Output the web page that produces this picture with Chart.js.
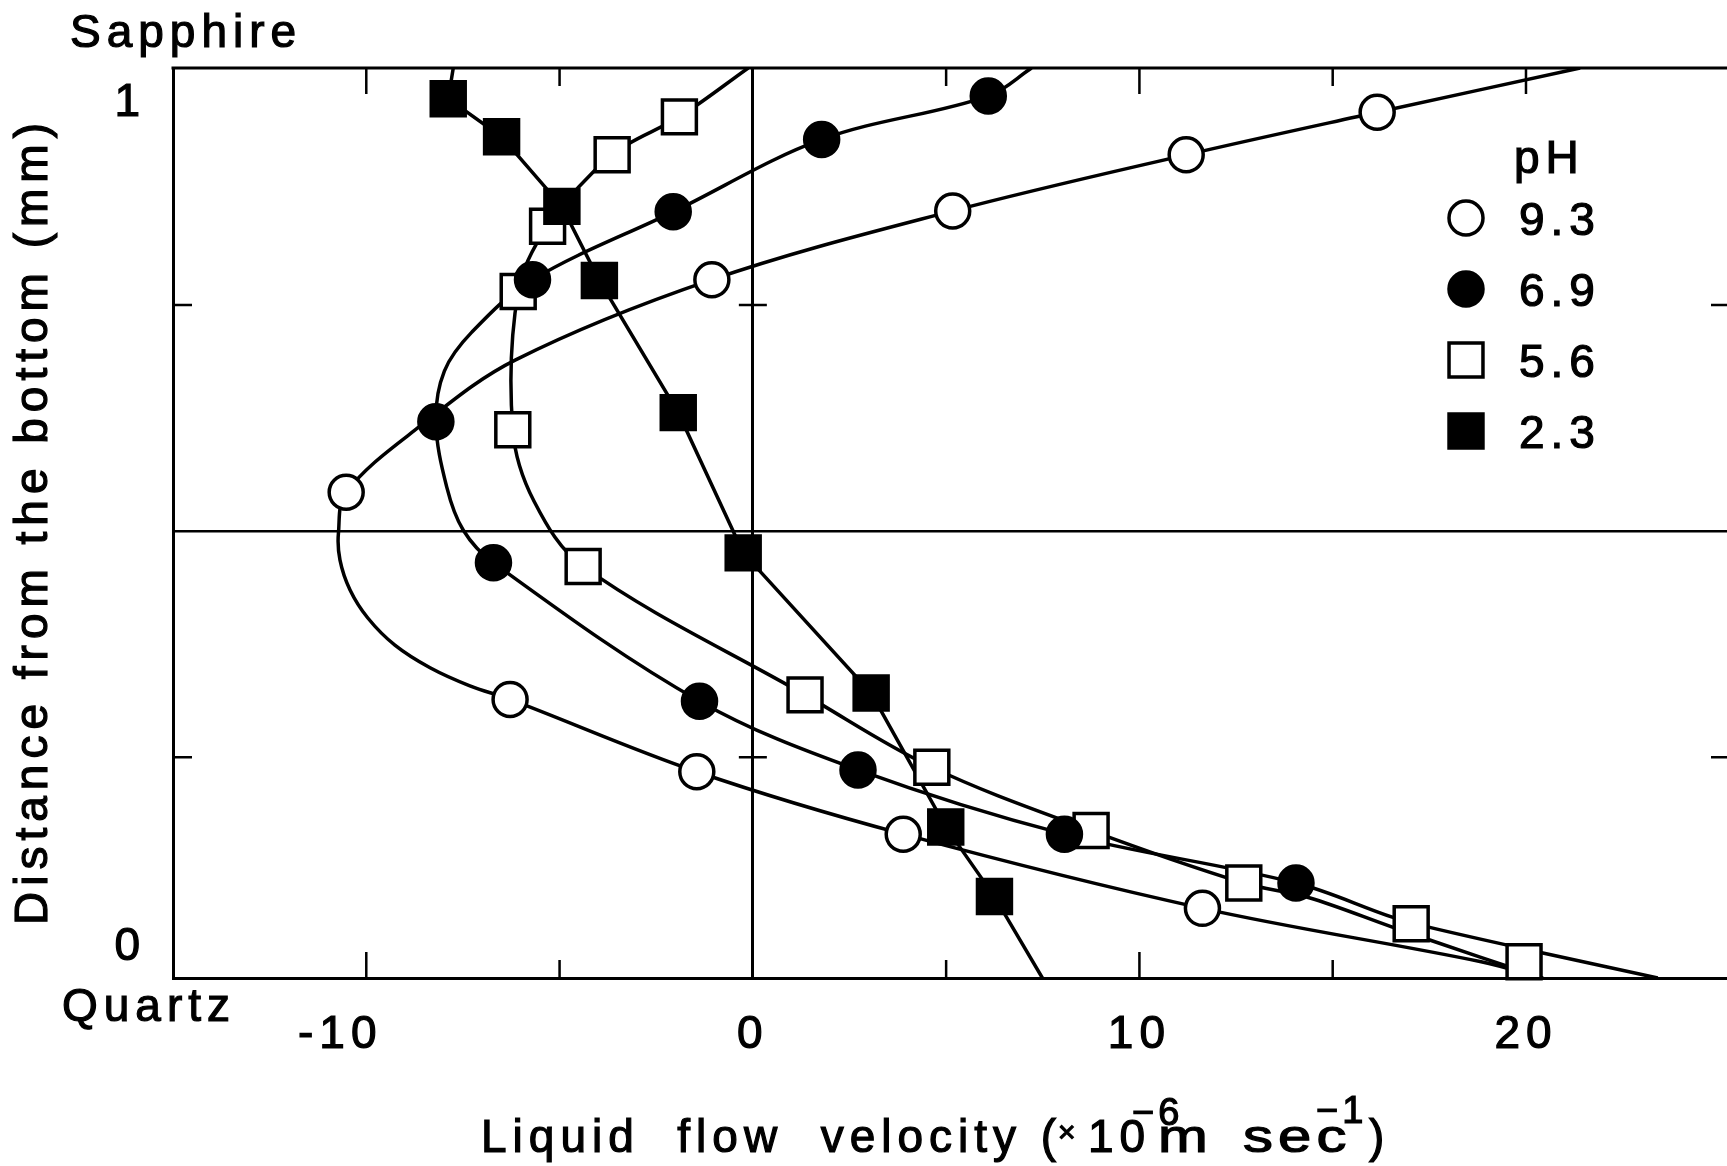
<!DOCTYPE html>
<html>
<head>
<meta charset="utf-8">
<title>Liquid flow velocity profiles</title>
<script src="https://cdn.jsdelivr.net/npm/chart.js@4.4.1/dist/chart.umd.min.js"></script>
<style>
  html, body { margin: 0; padding: 0; background: #fff; overflow: hidden; }
  #wrap { width: 1727px; height: 1166px; }
</style>
</head>
<body>
<div id="wrap"><canvas id="flow" width="1727" height="1166"></canvas></div>
<script>
(function(){
    const FONT = "'Liberation Sans', Arial, Helvetica, sans-serif";

    // axes: velocity in 1e-6 m/s, distance from the quartz plate in mm
    const xMin = -15, xMax = 25.2;
    const yMin = 0.006, yMax = 1.012;
    const xTickLabels = [-10, 0, 10, 20];
    const xInnerTicks = [-10, -5, 5, 10, 15, 20];
    const yInnerTicks = [0.25, 0.75];
    const yEndLabels = ['0', '1'];

    const phValues = ['9.3', '6.9', '5.6', '2.3'];

    // measured points, top of the cell to the bottom
    const vel93  = [16.15, 11.21, 5.17, -1.06, -10.52, -6.28, -1.45, 3.89, 11.63];
    const dist93 = [0.963, 0.916, 0.854, 0.778, 0.543, 0.314, 0.234, 0.165, 0.083];

    const vel69  = [6.09, 1.78, -2.06, -5.70, -8.20, -6.71, -1.38, 2.72, 8.06, 14.05];
    const dist69 = [0.981, 0.933, 0.853, 0.778, 0.621, 0.465, 0.312, 0.236, 0.165, 0.111];

    const vel56  = [-1.90, -3.64, -5.31, -6.07, -6.21, -4.39, 1.35, 4.63, 8.75, 12.70, 17.03, 19.95];
    const dist56 = [0.958, 0.916, 0.837, 0.765, 0.612, 0.461, 0.319, 0.239, 0.169, 0.111, 0.066, 0.024];

    const vel23  = [-7.88, -6.50, -4.94, -3.97, -1.93, -0.25, 3.06, 4.99, 6.25];
    const dist23 = [0.978, 0.936, 0.859, 0.777, 0.631, 0.476, 0.321, 0.173, 0.096];

    // the drawn profile lines, wall to wall
    const fitVel93  = [21.4, 16.15, 11.21, 5.17, -1.06, -6.15, -8.61, -10.52, -10.72, -10.68, -10.42, -9.96, -9.26, -8.35, -7.32, -6.28, -1.45, 3.89, 11.63, 18.84, 20.4];
    const fitDist93 = [1.012, 0.963, 0.916, 0.854, 0.778, 0.689, 0.616, 0.543, 0.498, 0.468, 0.435, 0.404, 0.374, 0.349, 0.329, 0.314, 0.234, 0.165, 0.083, 0.024, 0.006];

    const fitVel69  = [7.21, 6.09, 1.78, -2.06, -5.70, -7.27, -7.98, -8.20, -7.92, -7.49, -6.71, -1.38, 2.72, 8.06, 14.05, 16.56, 17.51, 20.08, 23.41];
    const fitDist69 = [1.012, 0.981, 0.933, 0.853, 0.778, 0.720, 0.677, 0.621, 0.549, 0.501, 0.465, 0.312, 0.236, 0.165, 0.111, 0.073, 0.062, 0.037, 0.006];

    const fitVel56  = [-0.12, -1.90, -3.64, -5.31, -6.07, -6.21, -5.66, -4.39, 1.35, 4.63, 8.75, 12.70, 14.37, 16.56, 17.51, 20.08, 20.44];
    const fitDist56 = [1.012, 0.958, 0.916, 0.837, 0.765, 0.612, 0.533, 0.461, 0.319, 0.239, 0.169, 0.111, 0.095, 0.062, 0.048, 0.011, 0.006];

    const fitVel23  = [-7.75, -7.88, -6.50, -4.94, -3.97, -1.93, -0.25, 3.06, 4.99, 6.25, 7.49];
    const fitDist23 = [1.012, 0.978, 0.936, 0.859, 0.777, 0.631, 0.476, 0.321, 0.173, 0.096, 0.006];

    const toXY = (xs, ys) => xs.map((x, i) => ({x: x, y: ys[i]}));

    const series = [
        {ph: phValues[0], pts: toXY(vel93, dist93), fit: toXY(fitVel93, fitDist93), shape: 'circle', fill: '#fff', tension: 0.35, order: 4},
        {ph: phValues[1], pts: toXY(vel69, dist69), fit: toXY(fitVel69, fitDist69), shape: 'circle', fill: '#000', tension: 0.35, order: 2},
        {ph: phValues[2], pts: toXY(vel56, dist56), fit: toXY(fitVel56, fitDist56), shape: 'rect',   fill: '#fff', tension: 0.35, order: 3},
        {ph: phValues[3], pts: toXY(vel23, dist23), fit: toXY(fitVel23, fitDist23), shape: 'rect',   fill: '#000', tension: 0,    order: 1}
    ];
    const radiusFor = shape => shape === 'rect' ? 24 : 17;
    const LINE = 3.5;

    const datasets = [];
    series.forEach(s => {
        datasets.push({
            label: 'pH ' + s.ph, data: s.pts, showLine: false,
            pointStyle: s.shape, pointRadius: radiusFor(s.shape),
            pointBackgroundColor: s.fill, pointBorderColor: '#000', pointBorderWidth: LINE,
            clip: false, order: s.order
        });
        datasets.push({
            label: 'profile ' + s.ph, data: s.fit, showLine: true, pointRadius: 0,
            borderColor: '#000', borderWidth: LINE, tension: s.tension, fill: false, order: 10
        });
    });

    // filled text with a thin outline, heavier like the printed lettering
    function ink(ctx, str, x, y, sx) {
        ctx.save();
        ctx.translate(x, y);
        if (sx) ctx.scale(sx, 1);
        ctx.fillText(str, 0, 0);
        ctx.strokeText(str, 0, 0);
        ctx.restore();
    }

    const framePlugin = {
        id: 'frame',
        beforeDraw(chart) {
            chart.ctx.letterSpacing = '6px';
        },
        beforeDatasetsDraw(chart) {
            const {ctx, chartArea: a, scales: {x, y}} = chart;
            const x0 = x.getPixelForValue(0);
            ctx.save();
            ctx.strokeStyle = '#000';
            ctx.lineWidth = 3;
            ctx.beginPath();
            ctx.moveTo(a.left - 1.5, a.top);
            ctx.lineTo(a.right, a.top);
            ctx.stroke();

            ctx.lineWidth = 2.5;
            ctx.beginPath();
            xInnerTicks.forEach(v => {
                const px = x.getPixelForValue(v);
                const len = v % 10 === 0 ? 26 : 18;
                ctx.moveTo(px, a.bottom); ctx.lineTo(px, a.bottom - len);
                ctx.moveTo(px, a.top); ctx.lineTo(px, a.top + len);
            });
            yInnerTicks.forEach(v => {
                const py = y.getPixelForValue(v);
                ctx.moveTo(a.left, py); ctx.lineTo(a.left + 19, py);
                ctx.moveTo(a.right, py); ctx.lineTo(a.right - 16, py);
                ctx.moveTo(x0 - 14, py); ctx.lineTo(x0 + 14, py);
            });
            ctx.stroke();
            ctx.restore();
        },
        afterDraw(chart) {
            const {ctx, chartArea: a} = chart;
            ctx.save();
            ctx.fillStyle = '#000';
            ctx.strokeStyle = '#000';
            ctx.lineWidth = 1.2;
            ctx.textBaseline = 'alphabetic';
            ctx.font = '46px ' + FONT;
            ctx.letterSpacing = '6px';

            // plate names
            ctx.textAlign = 'left';
            ink(ctx, 'Sapphire', 70, a.top - 21);
            ink(ctx, 'Quartz', 62, a.bottom + 43);

            // y end labels
            ctx.letterSpacing = '0px';
            ctx.textAlign = 'right';
            ink(ctx, yEndLabels[1], a.left - 33, a.top + 48);
            ink(ctx, yEndLabels[0], a.left - 33, a.bottom - 18);

            // y title
            ctx.letterSpacing = '6px';
            ctx.save();
            ctx.translate(47, 521);
            ctx.rotate(-Math.PI / 2);
            ctx.textAlign = 'center';
            ink(ctx, 'Distance from the bottom (mm)', 0, 0);
            ctx.restore();

            // x title, set piece by piece with raised exponents
            ctx.textAlign = 'left';
            const base = 1152;
            ink(ctx, 'Liquid  flow  velocity (', 481, base);
            ink(ctx, '10', 1088, base);
            ctx.letterSpacing = '4px';
            ink(ctx, 'm', 1158, base, 1.3);
            ink(ctx, 'sec', 1243, base, 1.3);
            ink(ctx, ')', 1369, base);
            ctx.font = '30px ' + FONT;
            ctx.letterSpacing = '0px';
            ink(ctx, '\u00d7', 1058, base - 10);
            ctx.font = '38px ' + FONT;
            ctx.letterSpacing = '4px';
            ink(ctx, '\u22126', 1132, base - 27);
            ink(ctx, '\u22121', 1316, base - 29);

            // legend
            ctx.font = '46px ' + FONT;
            ctx.letterSpacing = '6px';
            ink(ctx, 'pH', 1514, 173);
            series.forEach((s, i) => {
                const cy = 218 + i * 71;
                ctx.save();
                ctx.fillStyle = s.fill;
                ctx.lineWidth = LINE;
                Chart.helpers.drawPoint(ctx, {pointStyle: s.shape, radius: radiusFor(s.shape), rotation: 0, borderWidth: LINE}, 1466, cy);
                ctx.restore();
                ink(ctx, s.ph, 1519, cy + 17);
            });
            ctx.restore();
        }
    };

    new Chart(document.getElementById('flow'), {
        type: 'scatter',
        data: {datasets: datasets},
        options: {
            responsive: false,
            animation: false,
            devicePixelRatio: 1,
            events: [],
            layout: {autoPadding: false, padding: {top: 68, left: 0, right: 0, bottom: 88}},
            plugins: {legend: {display: false}, tooltip: {enabled: false}},
            scales: {
                x: {
                    type: 'linear', min: xMin, max: xMax,
                    afterBuildTicks: s => { s.ticks = xTickLabels.map(v => ({value: v})); },
                    afterFit: s => { s.height = 100; s.paddingLeft = 0; s.paddingRight = 0; },
                    ticks: {
                        font: {family: FONT, size: 46}, color: '#000', padding: 30,
                        textStrokeColor: '#000', textStrokeWidth: 1.2,
                        maxRotation: 0, autoSkip: false,
                        // hang the minus sign so the digits sit under the tick
                        callback: v => v < 0 ? '-' + Math.abs(v) + '\u2003' : String(v)
                    },
                    grid: {
                        drawTicks: false, lineWidth: 3,
                        color: c => c.tick && c.tick.value === 0 ? '#000' : 'rgba(0,0,0,0)'
                    },
                    border: {display: true, color: '#000', width: 3}
                },
                y: {
                    type: 'linear', min: yMin, max: yMax,
                    afterBuildTicks: s => { s.ticks = [{value: 0.5}]; },
                    afterFit: s => { s.width = 173; },
                    ticks: {display: false},
                    grid: {drawTicks: false, lineWidth: 2.5, color: '#000'},
                    border: {display: true, color: '#000', width: 3}
                }
            }
        },
        plugins: [framePlugin]
    });
})()
</script>
</body>
</html>
